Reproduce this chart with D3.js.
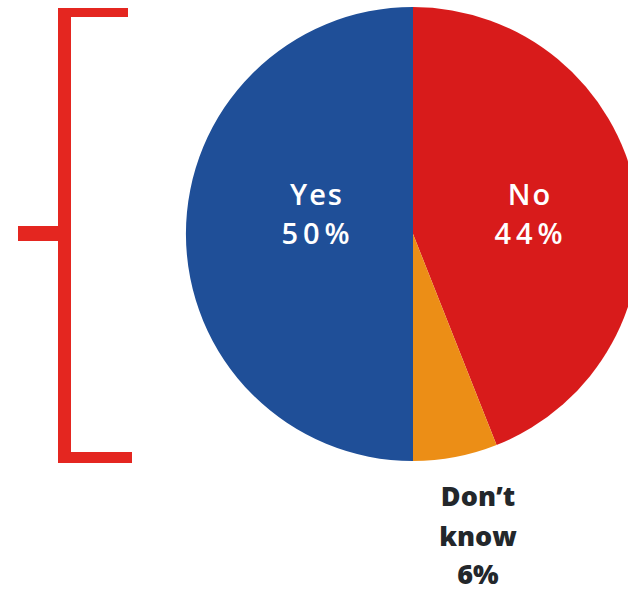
<!DOCTYPE html>
<html>
<head>
<meta charset="utf-8">
<script src="https://cdn.jsdelivr.net/npm/d3@7/dist/d3.min.js"></script>
<style>
  html, body { margin: 0; padding: 0; background: #ffffff; }
  svg { display: block; }
</style>
</head>
<body>
<script>
// Survey answers, clockwise from 12 o'clock
const categories = ["No", "Don\u2019t know", "Yes"];
const values = [44, 6, 50];
const valueLabels = ["44%", "6%", "50%"];
const colors = ["#d81b1b", "#ec8e16", "#1f4f98"];

const W = 628, H = 592;
const cx = 413, cy = 234, R = 227;

const svg = d3.select("body").append("svg")
  .attr("width", W).attr("height", H);

// Bracket on the left
const bracketColor = "#e42620";
const bracket = svg.append("g").attr("fill", bracketColor);
bracket.append("rect").attr("x", 58).attr("y", 8).attr("width", 13).attr("height", 455);
bracket.append("rect").attr("x", 58).attr("y", 8).attr("width", 70).attr("height", 9);
bracket.append("rect").attr("x", 58).attr("y", 452).attr("width", 74).attr("height", 11);
bracket.append("rect").attr("x", 18).attr("y", 226).attr("width", 45).attr("height", 15);

// Pie
const pie = d3.pie().sort(null).value(d => d.value);
const data = categories.map((c, i) => ({ name: c, value: values[i], label: valueLabels[i], color: colors[i] }));
const arcs = pie(data);
const arc = d3.arc().innerRadius(0).outerRadius(R);

const g = svg.append("g").attr("transform", `translate(${cx},${cy})`);
g.selectAll("path").data(arcs).enter().append("path")
  .attr("d", arc)
  .attr("fill", d => d.data.color);

// Labels inside the two large slices
const inside = [
  { name: categories[2], label: valueLabels[2], x: cx - 97 },
  { name: categories[0], label: valueLabels[0], x: cx + 116 }
];
inside.forEach(t => {
  const txt = svg.append("text")
    .attr("text-anchor", "middle")
    .attr("font-family", "Open Sans, sans-serif")
    .attr("font-weight", 600)
    .attr("font-size", 29)
    .attr("fill", "#ffffff");
  txt.append("tspan").attr("x", t.x + 1).attr("y", 205)
    .attr("letter-spacing", 2).text(t.name);
  txt.append("tspan").attr("x", t.x + 2).attr("y", 244)
    .attr("letter-spacing", 5).text(t.label);
});

// Label below the small slice
const dk = svg.append("text")
  .attr("text-anchor", "middle")
  .attr("font-family", "Open Sans, sans-serif")
  .attr("font-weight", 800)
  .attr("font-size", 27)
  .attr("fill", "#23272b");
dk.append("tspan").attr("x", 478).attr("y", 506).text("Don\u2019t");
dk.append("tspan").attr("x", 478).attr("y", 546).text("know");
dk.append("tspan").attr("x", 478).attr("y", 584).text(valueLabels[1]);
</script>
</body>
</html>
